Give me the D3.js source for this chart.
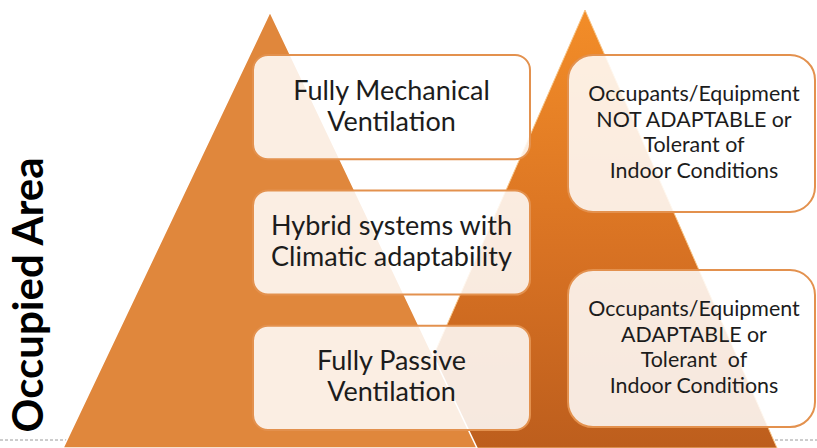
<!DOCTYPE html>
<html>
<head>
<meta charset="utf-8">
<script src="https://cdn.jsdelivr.net/npm/d3@7"></script>
<style>
  body { margin: 0; background: #fff; }
  svg { display: block; }
  .box-text { font-family: Lato, "Open Sans", sans-serif; fill: #1c1c1c; text-anchor: middle; }
</style>
</head>
<body>
<div id="diagram"></div>
<script>
// labels for the diagram
var ventilationLabels = [
  ["Fully Mechanical", "Ventilation"],
  ["Hybrid systems with", "Climatic adaptability"],
  ["Fully Passive", "Ventilation"]
];
var occupantLabels = [
  ["Occupants/Equipment", "NOT ADAPTABLE or", "Tolerant of", "Indoor Conditions"],
  ["Occupants/Equipment", "ADAPTABLE or", "Tolerant  of", "Indoor Conditions"]
];
var sideTitle = "Occupied Area";

// svg container
var svgWidth = 817;
var svgHeight = 448;

var svg = d3.select("#diagram")
  .append("svg")
  .attr("width", svgWidth)
  .attr("height", svgHeight);

// gradient for the right triangle
var defs = svg.append("defs");
var grad = defs.append("linearGradient")
  .attr("id", "rightGrad")
  .attr("gradientUnits", "userSpaceOnUse")
  .attr("x1", 0).attr("y1", 10)
  .attr("x2", 0).attr("y2", 448);
grad.append("stop").attr("offset", "0%").attr("stop-color", "#f38d28");
grad.append("stop").attr("offset", "55%").attr("stop-color", "#d87223");
grad.append("stop").attr("offset", "100%").attr("stop-color", "#bd5e1d");

// dashed floor line
svg.append("line")
  .attr("x1", 0).attr("x2", svgWidth)
  .attr("y1", 440).attr("y2", 440)
  .attr("stroke", "#9a9a9a")
  .attr("stroke-width", 1)
  .attr("stroke-dasharray", "3,2");

// triangle height scale: 0 = base, 1 = apex
var line = d3.line();
function triangle(cx, apexY, halfBase) {
  var y = d3.scaleLinear().domain([0, 1]).range([svgHeight, apexY]);
  return line([[cx, y(1)], [cx + halfBase, y(0)], [cx - halfBase, y(0)]]) + "Z";
}

// right triangle (behind)
svg.append("path")
  .attr("d", triangle(585, 10, 192))
  .attr("fill", "url(#rightGrad)")
  .attr("stroke", "#f6c487")
  .attr("stroke-width", 1);

// left triangle (front)
svg.append("path")
  .attr("d", triangle(270, 12, 207))
  .attr("fill", "#e0873c")
  .attr("stroke", "#ffffff")
  .attr("stroke-width", 1.5);

// left column boxes
var yLeft = d3.scaleBand()
  .domain(d3.range(ventilationLabels.length))
  .range([55, 430])
  .paddingInner(0.23);

var leftBoxes = svg.append("g").selectAll("g")
  .data(ventilationLabels)
  .enter()
  .append("g")
  .attr("transform", (d, i) => `translate(253, ${yLeft(i)})`);

leftBoxes.append("rect")
  .attr("width", 277)
  .attr("height", yLeft.bandwidth())
  .attr("rx", 15)
  .attr("fill", "#ffffff")
  .attr("fill-opacity", 0.86)
  .attr("stroke", "#e3914e")
  .attr("stroke-width", 2);

leftBoxes.each(function(d) {
  var g = d3.select(this);
  var mid = yLeft.bandwidth() / 2 + 8;
  d.forEach(function(t, j) {
    g.append("text")
      .attr("class", "box-text")
      .attr("x", 138.5)
      .attr("y", mid + (j - (d.length - 1) / 2) * 31)
      .attr("font-size", 27)
      .text(t);
  });
});

// right column boxes
var yRight = d3.scaleBand()
  .domain(d3.range(occupantLabels.length))
  .range([55, 427])
  .paddingInner(0.27);

var rightBoxes = svg.append("g").selectAll("g")
  .data(occupantLabels)
  .enter()
  .append("g")
  .attr("transform", (d, i) => `translate(568, ${yRight(i)})`);

rightBoxes.append("rect")
  .attr("width", 247)
  .attr("height", yRight.bandwidth())
  .attr("rx", 25)
  .attr("fill", "#ffffff")
  .attr("fill-opacity", 0.86)
  .attr("stroke", "#e3914e")
  .attr("stroke-width", 2);

rightBoxes.each(function(d) {
  var g = d3.select(this);
  var mid = yRight.bandwidth() / 2 + 6;
  d.forEach(function(t, j) {
    g.append("text")
      .attr("class", "box-text")
      .attr("x", 126)
      .attr("y", mid + (j - (d.length - 1) / 2) * 25.5)
      .attr("font-size", 21.4)
      .style("white-space", "pre")
      .text(t);
  });
});

// rotated side title
svg.append("text")
  .attr("transform", "translate(43, 295) rotate(-90)")
  .attr("text-anchor", "middle")
  .attr("font-family", "Lato, 'Open Sans', sans-serif")
  .attr("font-weight", "bold")
  .attr("font-size", 42)
  .attr("fill", "#000")
  .text(sideTitle);
</script>
</body>
</html>
